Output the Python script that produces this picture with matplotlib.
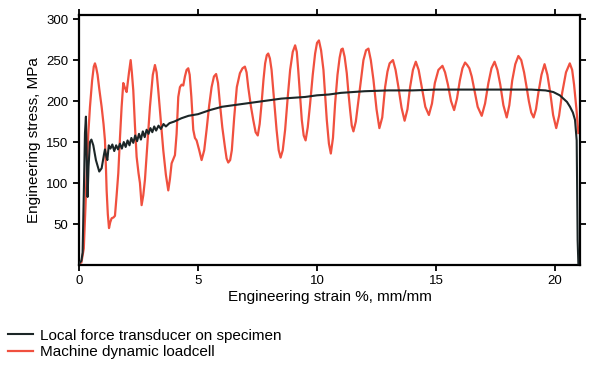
import matplotlib
matplotlib.use("Agg")
import matplotlib.pyplot as plt

plt.rcParams['font.family'] = ['Liberation Sans', 'DejaVu Sans']

# local force transducer (black)
local_strain = [0.0, 0.1, 0.15, 0.21, 0.25, 0.29, 0.33, 0.36, 0.40, 0.46, 0.52, 0.6, 0.71, 0.85, 0.95,
                1.05, 1.09, 1.15, 1.19, 1.25, 1.32, 1.40, 1.48, 1.56, 1.64, 1.72, 1.80, 1.88, 1.96,
                2.04, 2.12, 2.20, 2.28, 2.36, 2.44, 2.52, 2.60, 2.68, 2.76, 2.84, 2.92, 3.00, 3.08,
                3.16, 3.24, 3.34, 3.44, 3.55, 3.65, 3.8, 4.0, 4.3, 4.6, 5.0, 5.5, 6.0, 6.5, 7.0, 7.5,
                8.0, 8.5, 9.0, 9.5, 10.0, 10.5, 11.0, 11.5, 12.0, 13.0, 14.0, 15.0, 16.0, 17.0, 18.0,
                19.0, 19.6, 19.93, 20.2, 20.35, 20.5, 20.63, 20.75, 20.84, 20.91, 20.95, 20.98]
local_stress = [2, 5, 15, 100, 161, 181, 120, 83, 120, 150, 153, 146, 128, 114, 118,
                135, 141, 132, 128, 146, 142, 147, 139, 146, 141, 148, 142, 150, 144,
                152, 146, 155, 149, 158, 151, 160, 153, 163, 156, 165, 160, 167, 162,
                169, 164, 170, 166, 172, 169, 173, 175, 179, 182, 184, 189, 193, 195, 197, 199,
                201, 203, 204, 205, 207, 208, 210, 211, 212, 213, 213, 214, 214, 214, 214,
                214, 213, 211, 207, 203, 199, 193, 186, 177, 152, 30, 2]

# machine dynamic loadcell (red)
machine_strain = [0.0, 0.1, 0.2, 0.27, 0.32, 0.39, 0.46, 0.55, 0.62, 0.67, 0.72, 0.78, 0.85, 0.95,
                  1.03, 1.09, 1.13, 1.16, 1.21, 1.26, 1.31, 1.37, 1.45, 1.51, 1.58, 1.65, 1.72, 1.79,
                  1.86, 1.93, 2.0, 2.1, 2.17, 2.22, 2.28, 2.35, 2.42, 2.5, 2.56, 2.63, 2.7, 2.77,
                  2.88, 2.98, 3.1, 3.19, 3.26, 3.33, 3.44, 3.54, 3.65, 3.75, 3.82, 3.89, 4.03, 4.1,
                  4.17, 4.24, 4.31, 4.38, 4.45, 4.52, 4.59, 4.65, 4.72, 4.80, 4.87, 4.94, 5.05, 5.15,
                  5.26, 5.36, 5.47, 5.57, 5.67, 5.76, 5.84, 5.92, 6.02, 6.13, 6.2, 6.27, 6.35, 6.42,
                  6.52, 6.63, 6.76, 6.87, 6.97, 7.04, 7.11, 7.22, 7.32, 7.42, 7.51, 7.59, 7.67, 7.75,
                  7.82, 7.89, 7.95, 8.02, 8.09, 8.2, 8.30, 8.39, 8.47, 8.56, 8.66, 8.77, 8.87, 8.98,
                  9.08, 9.15, 9.21, 9.29, 9.36, 9.44, 9.52, 9.61, 9.71, 9.82, 9.92, 10.0, 10.08,
                  10.17, 10.27, 10.34, 10.41, 10.5, 10.58, 10.67, 10.76, 10.86, 10.95, 11.02, 11.08,
                  11.16, 11.25, 11.32, 11.39, 11.46, 11.53, 11.63, 11.74, 11.85, 11.95, 12.06, 12.16,
                  12.26, 12.37, 12.5, 12.62, 12.74, 12.86, 12.96, 13.05, 13.19, 13.3, 13.42, 13.55,
                  13.68, 13.8, 13.91, 14.03, 14.15, 14.27, 14.40, 14.55, 14.70, 14.83, 14.95, 15.1,
                  15.27, 15.38, 15.5, 15.63, 15.76, 15.88, 16.0, 16.11, 16.22, 16.31, 16.4, 16.5,
                  16.6, 16.75, 16.92, 17.06, 17.2, 17.33, 17.46, 17.58, 17.7, 17.83, 17.97, 18.08,
                  18.2, 18.33, 18.46, 18.58, 18.7, 18.8, 18.9, 19.0, 19.1, 19.2, 19.3, 19.43, 19.56,
                  19.68, 19.8, 19.92, 20.05, 20.17, 20.3, 20.46, 20.62, 20.72, 20.8, 20.9, 20.98]
machine_stress = [2, 3, 20, 70, 112, 160, 193, 225, 242, 246, 241, 232, 215, 193,
                  172, 152, 120, 91, 62, 45, 52, 57, 58, 60, 85, 112, 155, 193,
                  222, 216, 211, 235, 250, 235, 213, 170, 132, 112, 100, 73, 85, 104,
                  150, 193, 232, 244, 235, 213, 175, 140, 110, 91, 105, 124, 134, 160,
                  205, 217, 220, 219, 230, 238, 240, 232, 205, 165, 155, 152, 140, 128,
                  140, 165, 195, 217, 230, 233, 222, 197, 168, 144, 130, 125, 128, 140,
                  180, 217, 234, 240, 242, 235, 217, 194, 177, 162, 158, 172, 197, 226,
                  246, 256, 258, 252, 238, 200, 165, 140, 131, 140, 165, 205, 238, 260,
                  268, 260, 238, 205, 177, 158, 152, 168, 197, 232, 258, 271, 274,
                  262, 238, 208, 177, 148, 136, 155, 197, 232, 253, 263, 264,
                  254, 234, 210, 189, 170, 163, 175, 201, 228, 250, 262, 264,
                  250, 226, 190, 167, 180, 217, 236, 246, 250, 238, 217, 192,
                  176, 190, 217, 238, 248, 238, 217, 193, 183, 197, 222, 238,
                  243, 235, 220, 200, 189, 203, 225, 240, 247, 244, 240, 230,
                  215, 193, 182, 197, 222, 240, 248, 238, 220, 195, 180, 195,
                  225, 245, 255, 250, 235, 218, 200, 186, 180, 190, 210, 232, 245,
                  232, 210, 183, 167, 182, 210, 235, 246, 238, 220, 190, 161]

x_ticks = [0, 5, 10, 15, 20]
y_ticks = [50, 100, 150, 200, 250, 300]

fig = plt.figure(figsize=(6, 3.66), dpi=100)
ax = fig.add_axes([0.1317, 0.276, 0.835, 0.683])

ax.plot(machine_strain, machine_stress, color='#f0503f', lw=1.6,
        solid_joinstyle='round', label='Machine dynamic loadcell', zorder=2)
ax.plot(local_strain, local_stress, color='#1c2627', lw=1.5,
        label='Local force transducer on specimen', zorder=3)

ax.set_xlim(0, 21.05)
ax.set_ylim(0, 305)
ax.set_xticks(x_ticks)
ax.set_yticks(y_ticks)
ax.tick_params(direction='out', length=4, width=1.3, labelsize=9.5,
               top=True, right=True, labeltop=False, labelright=False)
for s in ax.spines.values():
    s.set_linewidth(1.6)

ax.set_xlabel('Engineering strain %, mm/mm', fontsize=11, labelpad=2)
ax.set_ylabel('Engineering stress, MPa', fontsize=11, labelpad=4)

h, l = ax.get_legend_handles_labels()
fig.legend(h[::-1], l[::-1], loc='upper left', bbox_to_anchor=(0.0, 0.125),
           frameon=False, fontsize=11, handlelength=1.6, handletextpad=0.5,
           labelspacing=0.15, borderaxespad=0.15)

fig.savefig('out.png', dpi=100)
